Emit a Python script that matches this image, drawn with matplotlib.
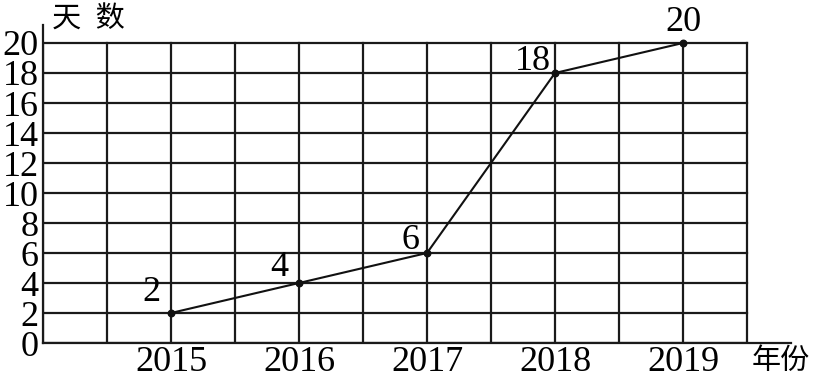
import matplotlib
matplotlib.use('Agg')
import matplotlib.pyplot as plt

plt.rcParams['font.family'] = ['Liberation Serif', 'Noto Sans CJK SC']

# Data
years = ['2015', '2016', '2017', '2018', '2019']
days = [2, 4, 6, 18, 20]
y_ticks = [0, 2, 4, 6, 8, 10, 12, 14, 16, 18, 20]

x_pos = [1, 2, 3, 4, 5]

fig = plt.figure(figsize=(8.31, 3.8), dpi=100)
W, H = 831, 380
left, right, top, bottom = 43, 791, 25, 343
ax = fig.add_axes([left / W, 1 - bottom / H, (right - left) / W, (bottom - top) / H])

px_x = 128.0   # pixels per year
px_y = 15.0    # pixels per day
ax.set_xlim(0, (right - left) / px_x)
ax.set_ylim(0, (bottom - top) / px_y)

# grid
gx = [i * 0.5 for i in range(12)]
for g in gx:
    ax.plot([g, g], [0, 20], color='#1a1a1a', lw=1.6, zorder=1)
for g in y_ticks:
    ax.plot([0, 5.5], [g, g], color='#1a1a1a', lw=1.6, zorder=1)

# line + points
ax.plot(x_pos, days, color='#111111', lw=1.5, zorder=3)
ax.scatter(x_pos, days, s=22, color='#111111', zorder=4)

# value labels
offsets = [(-0.15, 1.35), (-0.15, 1.0), (-0.13, 0.85), (-0.17, 0.75), (0.0, 1.35)]
for x, v, (dx, dy) in zip(x_pos, days, offsets):
    ax.text(x + dx, v + dy, str(v), fontsize=26, ha='center', va='center', zorder=5)

for s in ['top', 'right']:
    ax.spines[s].set_visible(False)
for s in ['left', 'bottom']:
    ax.spines[s].set_linewidth(1.6)
    ax.spines[s].set_color('#1a1a1a')

ax.set_xticks(x_pos)
ax.set_xticklabels(years, fontsize=26)
ax.set_yticks(y_ticks)
ax.set_yticklabels([str(t) for t in y_ticks], fontsize=26)
ax.tick_params(length=0, pad=3)
ax.tick_params(axis='x', pad=2)

fig.text(52 / W, 1 - 20 / H, '天  数', fontsize=21, ha='left', va='center')
fig.text(752 / W, 1 - 362 / H, '年份', fontsize=21, ha='left', va='center')

fig.savefig('out.png', dpi=100, facecolor='white')
